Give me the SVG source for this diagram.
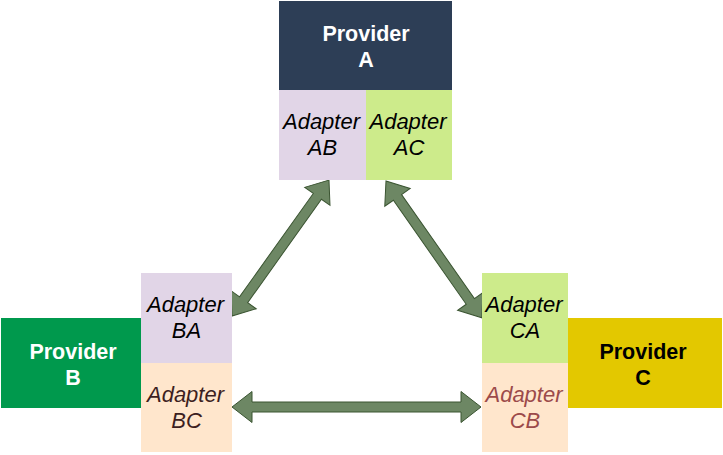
<svg xmlns="http://www.w3.org/2000/svg" width="723" height="455" viewBox="0 0 723 455">
<style>
.prov{font-family:"Liberation Sans",Arial,sans-serif;font-weight:bold;font-size:21.5px;text-anchor:middle;}
.adp{font-family:"Liberation Sans",Arial,sans-serif;font-style:italic;font-size:22px;text-anchor:middle;}
.arrow{fill:#6D8764;stroke:#3A5431;stroke-width:1;}
</style>
<rect width="723" height="455" fill="#ffffff"/>
<g id="connectors">
<polygon class="arrow" transform="translate(232,316) rotate(-54.5)" points="0,0 20,-15.5 20,-5 147,-5 147,-15.5 167,0 147,15.5 147,5 20,5 20,15.5"/>
<polygon class="arrow" transform="translate(386,181) rotate(55)" points="0,0 20,-15.5 20,-5 147,-5 147,-15.5 167,0 147,15.5 147,5 20,5 20,15.5"/>
<polygon class="arrow" transform="translate(232,407)" points="0,0 20,-15.5 20,-5 229,-5 229,-15.5 249,0 229,15.5 229,5 20,5 20,15.5"/>
</g>
<g id="providerA">
<rect x="279" y="1" width="173" height="89" fill="#2D3E56"/>
<text class="prov" x="366" y="41" fill="#ffffff">Provider</text>
<text class="prov" x="366" y="67" fill="#ffffff">A</text>
</g>
<g id="adapterAB">
<rect x="279" y="90" width="87" height="90" fill="#E1D5E7"/>
<text class="adp" x="321.5" y="129" fill="#000000">Adapter</text>
<text class="adp" x="322.5" y="155" fill="#000000">AB</text>
</g>
<g id="adapterAC">
<rect x="366" y="90" width="86" height="90" fill="#CDEB8B"/>
<text class="adp" x="408" y="129" fill="#000000">Adapter</text>
<text class="adp" x="409" y="155" fill="#000000">AC</text>
</g>
<g id="providerB">
<rect x="1" y="318" width="140" height="90" fill="#00994D"/>
<text class="prov" x="73" y="358.5" fill="#ffffff">Provider</text>
<text class="prov" x="73" y="384.5" fill="#ffffff">B</text>
</g>
<g id="adapterBA">
<rect x="141" y="273" width="91" height="90" fill="#E1D5E7"/>
<text class="adp" x="185.5" y="312" fill="#000000">Adapter</text>
<text class="adp" x="186.5" y="338" fill="#000000">BA</text>
</g>
<g id="adapterBC">
<rect x="141" y="363" width="91" height="89" fill="#FFE6CC"/>
<text class="adp" x="185.5" y="401.5" fill="#3D1F1F">Adapter</text>
<text class="adp" x="186.5" y="427.5" fill="#3D1F1F">BC</text>
</g>
<g id="adapterCA">
<rect x="482" y="273" width="86" height="90" fill="#CDEB8B"/>
<text class="adp" x="524" y="312" fill="#000000">Adapter</text>
<text class="adp" x="525" y="338" fill="#000000">CA</text>
</g>
<g id="adapterCB">
<rect x="482" y="363" width="86" height="89" fill="#FFE6CC"/>
<text class="adp" x="524" y="401.5" fill="#9C4A4A">Adapter</text>
<text class="adp" x="525" y="427.5" fill="#9C4A4A">CB</text>
</g>
<g id="providerC">
<rect x="568" y="318" width="154" height="90" fill="#E3C800"/>
<text class="prov" x="643" y="358.5" fill="#000000">Provider</text>
<text class="prov" x="643" y="384.5" fill="#000000">C</text>
</g>
</svg>
